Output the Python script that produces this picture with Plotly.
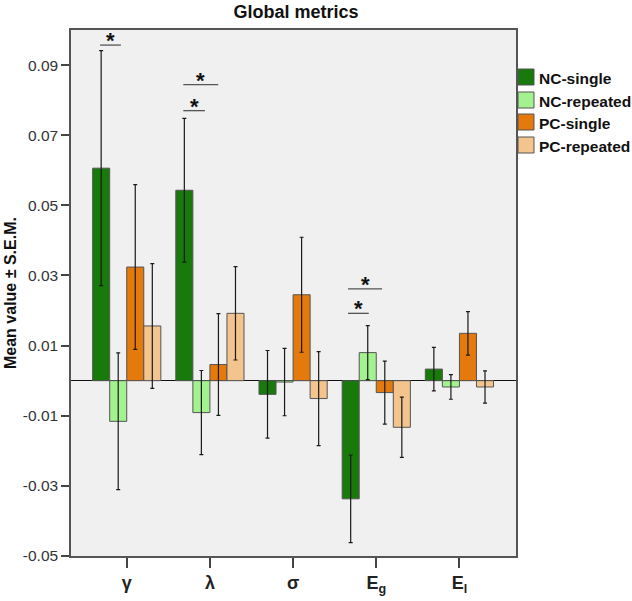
import plotly.graph_objects as go

# ---------------- data ----------------
categories = ["γ", "λ", "σ", "E_g", "E_l"]
tick_labels = ["<b>γ</b>", "<b>λ</b>", "<b>σ</b>", "<b>E<sub>g</sub></b>", "<b>E<sub>l</sub></b>"]

series_names = ["NC-single", "NC-repeated", "PC-single", "PC-repeated"]
nc_single = [0.0606, 0.0543, -0.0039, -0.0337, 0.0033]
nc_single_err = [0.0335, 0.0205, 0.0125, 0.0125, 0.0062]
nc_repeated = [-0.0116, -0.0091, -0.0004, 0.0080, -0.0018]
nc_repeated_err = [0.0195, 0.0120, 0.0096, 0.0077, 0.0035]
pc_single = [0.0324, 0.0046, 0.0245, -0.0034, 0.0135]
pc_single_err = [0.0235, 0.0145, 0.0164, 0.0090, 0.0062]
pc_repeated = [0.0156, 0.0192, -0.0051, -0.0133, -0.0018]
pc_repeated_err = [0.0178, 0.0133, 0.0134, 0.0086, 0.0046]

y_ticks = [0.09, 0.07, 0.05, 0.03, 0.01, -0.01, -0.03, -0.05]
y_tick_text = ["0.09", "0.07", "0.05", "0.03", "0.01", "-0.01", "-0.03", "-0.05"]

# significance brackets: (category index, start offset, end offset, y level)
sig_brackets = [
    (0, -0.32, -0.07, 0.0957),
    (1, -0.32, -0.06, 0.0770),
    (1, -0.32, 0.10, 0.0844),
    (3, -0.34, -0.09, 0.0192),
    (3, -0.34, 0.07, 0.0262),
]

colors = ["#177a0a", "#a3f28f", "#e47a0c", "#f4c48e"]

# ---------------- figure ----------------
values = [nc_single, nc_repeated, pc_single, pc_repeated]
errors = [nc_single_err, nc_repeated_err, pc_single_err, pc_repeated_err]
x_pos = list(range(len(categories)))

fig = go.Figure()
for name, vals, errs, col in zip(series_names, values, errors, colors):
    fig.add_trace(go.Bar(
        x=x_pos, y=vals, name=name,
        marker=dict(color=col, line=dict(color="#555555", width=1)),
        error_y=dict(type="data", array=errs, visible=True,
                     color="#1a1a1a", thickness=1.2, width=2),
        showlegend=False,
    ))

# plot area in pixels
L, R, T, B = 71, 516, 30, 556
W, H = 632, 601

def px_x(px):
    return (px - L) / (R - L)

def px_y(py):
    return (B - py) / (B - T)

shapes = []
annotations = []
for ci, a, b, yv in sig_brackets:
    shapes.append(dict(type="line", xref="x", yref="y", x0=ci + a, x1=ci + b,
                       y0=yv, y1=yv, line=dict(color="#555555", width=1.3)))
    annotations.append(dict(x=ci + (a + b) / 2, y=yv, xref="x", yref="y",
                            text="<b>*</b>", showarrow=False, yanchor="bottom",
                            yshift=-10, font=dict(size=22, color="#111111",
                                                  family="Liberation Sans, Arial")))

# manual legend
legend_rows = [77, 100, 122, 145]
for name, col, cy in zip(series_names, colors, legend_rows):
    shapes.append(dict(type="rect", xref="paper", yref="paper",
                       x0=px_x(518), x1=px_x(534), y0=px_y(cy + 8), y1=px_y(cy - 8),
                       fillcolor=col, line=dict(color="#555555", width=1)))
    annotations.append(dict(x=px_x(537), y=px_y(cy + 1), xref="paper", yref="paper",
                            text="<b>" + name + "</b>", showarrow=False,
                            xanchor="left", yanchor="middle",
                            font=dict(size=15.5, color="#111111",
                                      family="Liberation Sans, Arial")))

# y-axis title as annotation, centred on the plot height
annotations.append(dict(x=px_x(10), y=0.5, xref="paper", yref="paper",
                        text="<b>Mean value ± S.E.M.</b>", showarrow=False,
                        textangle=-90, xanchor="center", yanchor="middle",
                        font=dict(size=16, color="#111111",
                                  family="Liberation Sans, Arial")))

fig.update_layout(
    width=W, height=H,
    margin=dict(l=L, r=W - R, t=T, b=H - B, pad=0, autoexpand=False),
    paper_bgcolor="white",
    plot_bgcolor="#f0f0f0",
    barmode="group",
    bargap=0.18,
    bargroupgap=0,
    font=dict(family="Liberation Sans, Arial", color="#333333"),
    title=dict(text="<b>Global metrics</b>", x=296 / W,
               xanchor="center", y=1 - 12 / H, yanchor="middle",
               font=dict(size=18, color="#111111"), automargin=False),
    shapes=shapes,
    annotations=annotations,
    showlegend=False,
)

fig.update_xaxes(
    range=[-0.67, 4.68],
    tickvals=x_pos, ticktext=tick_labels,
    ticks="outside", ticklen=10, tickwidth=1.5, tickcolor="#444444",
    tickfont=dict(size=18, color="#222222"),
    showline=True, linecolor="#555555", linewidth=1.5, mirror=True,
    showgrid=False, zeroline=False, automargin=False,
)
fig.update_yaxes(
    range=[-0.05, 0.1],
    tickvals=y_ticks, ticktext=y_tick_text,
    ticks="outside", ticklen=8, tickwidth=1.5, tickcolor="#444444",
    tickfont=dict(size=15.5, color="#333333"),
    showline=True, linecolor="#555555", linewidth=1.5, mirror=True,
    showgrid=False, automargin=False,
    zeroline=True, zerolinecolor="#111111", zerolinewidth=1,
)

fig.write_html(
    "out.html",
    config={"displayModeBar": False},
    post_script="document.body.style.margin='0px';document.body.style.padding='0px';",
)
